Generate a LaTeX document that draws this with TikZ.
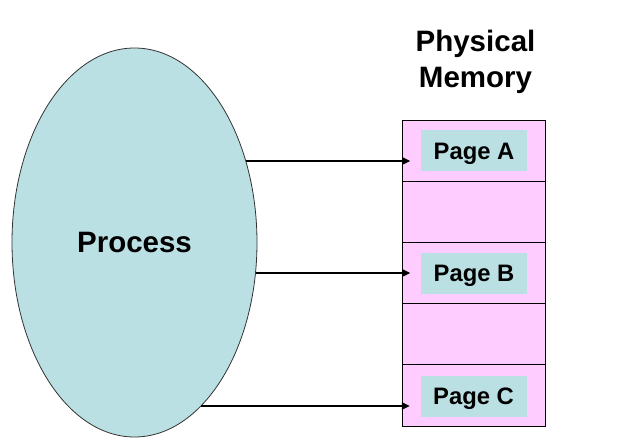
\documentclass[tikz,border=0pt]{standalone}
\usepackage{fontspec}
\setmainfont{Liberation Sans}
\usetikzlibrary{shapes.geometric,arrows.meta}
\definecolor{procfill}{HTML}{BBE0E3}
\definecolor{memfill}{HTML}{FFCCFF}
\tikzset{
  proc/.style={ellipse, draw=black!80, line width=0.8pt, fill=procfill, inner sep=0pt,
    minimum width=245pt, minimum height=389pt, font=\fontsize{29.5}{30}\selectfont\bfseries},
  memrow/.style={rectangle, draw=black, line width=1pt, fill=memfill, inner sep=0pt,
    minimum width=143.5pt, minimum height=61.1pt},
  pagebox/.style={rectangle, fill=procfill, inner sep=0pt, minimum width=106pt, minimum height=41pt,
    text height=16.9pt, text depth=0pt, font=\fontsize{23.8}{24}\selectfont\bfseries},
  title/.style={align=center, font=\fontsize{29.5}{36.5}\selectfont\bfseries},
  maparrow/.style={-{Triangle[length=8pt,width=7.5pt]}, line width=1.2pt, shorten >=10.5pt}
}
\begin{document}
\begin{tikzpicture}[x=1pt,y=-1pt]
\useasboundingbox (0,0) rectangle (624,441);
\node[proc] (process) at (134.5,242.5) {Process};
\node[title, anchor=base] (memtitle) at (475.5,87.8) {Physical\\Memory};
\foreach \i in {1,...,5} {
  \node[memrow] (row\i) at (473.75,{120.5+61.1*(\i-0.5)}) {};
}
\node[pagebox] (pageA) at (474,151) {Page A};
\node[pagebox] (pageB) at (474,273.5) {Page B};
\node[pagebox] (pageC) at (473.5,396) {Page C};
\coordinate (s1) at (245.7,161);
\coordinate (s2) at (256.2,273);
\coordinate (s3) at (200.9,406);
\draw[maparrow] (s1) -- (s1 -| pageA.west);
\draw[maparrow] (s2) -- (s2 -| pageB.west);
\draw[maparrow] (s3) -- (s3 -| pageC.west);
\end{tikzpicture}
\end{document}
